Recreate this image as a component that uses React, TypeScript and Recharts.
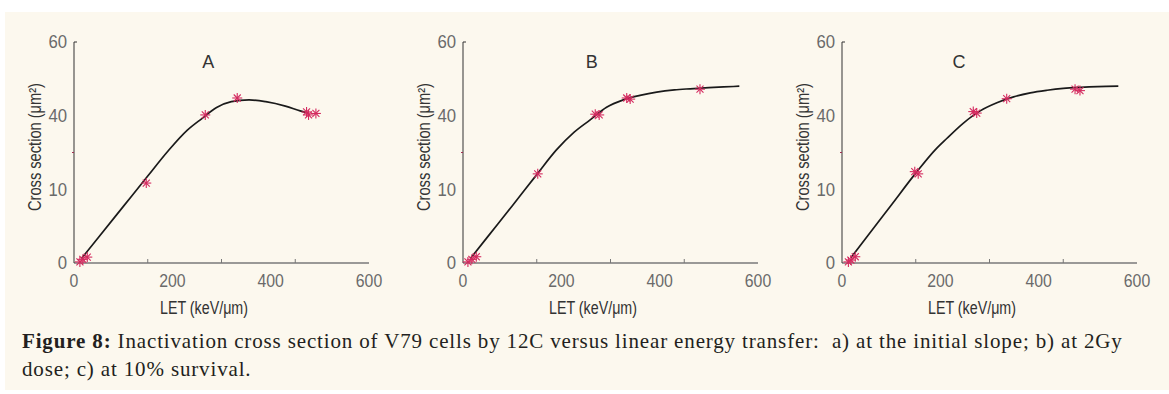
import React from "react";
import {
  ComposedChart,
  Line,
  Scatter,
  XAxis,
  YAxis,
  ReferenceDot,
} from "recharts";

// tick values
const xTickValues = [0, 150, 200, 300, 400, 450, 600];
const xLabelValues = [0, 200, 400, 600];
const yTickValues = [0, 20, 30, 40, 60];
const yTickText: Record<number, string> = { 0: "0", 20: "10", 40: "40", 60: "60" };

// panel A: initial slope
const curveAx = [15, 50, 100, 150, 190, 230, 260, 290, 320, 356, 390, 430, 460, 478];
const curveAy = [1.2, 7.0, 15.3, 23.6, 30.2, 36.0, 39.2, 42.2, 43.8, 44.3, 43.8, 42.6, 41.3, 40.6];
const pointsAx = [12, 18, 27, 147, 267, 332, 473, 477, 492];
const pointsAy = [0.3, 1.0, 1.6, 21.7, 40.2, 44.8, 41.0, 40.2, 40.6];

// panel B: 2Gy dose
const curveBx = [15, 50, 100, 150, 190, 225, 258, 292, 326, 360, 394, 430, 462, 500, 530, 562];
const curveBy = [1.2, 7.1, 15.5, 24.0, 30.7, 35.4, 38.8, 42.3, 44.3, 45.5, 46.4, 47.0, 47.3, 47.6, 47.8, 48.0];
const pointsBx = [10, 18, 27, 152, 269, 277, 333, 340, 482];
const pointsBy = [0.3, 1.0, 1.7, 24.2, 40.4, 40.2, 44.8, 44.5, 47.2];

// panel C: 10% survival
const curveCx = [18, 50, 100, 150, 190, 213, 247, 281, 315, 349, 383, 417, 450, 485, 520, 562];
const curveCy = [1.4, 7.0, 15.7, 24.4, 30.8, 33.8, 38.0, 41.3, 43.5, 45.1, 46.2, 46.9, 47.4, 47.7, 47.9, 48.0];
const pointsCx = [13, 18, 27, 148, 155, 267, 274, 335, 474, 484];
const pointsCy = [0.3, 0.8, 1.7, 24.8, 24.2, 41.1, 40.7, 44.6, 47.2, 46.8];

const zip = (xs: number[], ys: number[]) => xs.map((x, i) => ({ x, y: ys[i] }));

const axisFont = "'Liberation Sans Narrow', 'Liberation Sans', Arial, sans-serif";
const textColor = "#6a6a6a";
const markColor = "#d42a5f";

function XTick(props: any) {
  const { x, y, payload } = props;
  const v = payload.value;
  if (xLabelValues.includes(v)) {
    const s = String(v);
    return (
      <text
        x={x}
        y={y + 24}
        textAnchor="middle"
        fill={textColor}
        fontSize={18}
        fontFamily={axisFont}
        textLength={s.length * 8.8}
        lengthAdjust="spacingAndGlyphs"
      >
        {s}
      </text>
    );
  }
  return <line x1={x} x2={x} y1={y} y2={y - 4} stroke="#777" strokeWidth={1} />;
}

function YTick(props: any) {
  const { x, y, payload } = props;
  const v = payload.value;
  if (v === 30) {
    return <line x1={x} x2={x - 2} y1={y} y2={y} stroke="#a03050" strokeWidth={1} />;
  }
  const s = yTickText[v];
  return (
    <g>
      {v === 60 && <line x1={x} x2={x + 3} y1={y} y2={y} stroke="#333" strokeWidth={1} />}
      <text
        x={x - 7}
        y={y}
        dy="0.36em"
        textAnchor="end"
        fill={textColor}
        fontSize={18}
        fontFamily={axisFont}
        textLength={s.length * 9.3}
        lengthAdjust="spacingAndGlyphs"
      >
        {s}
      </text>
    </g>
  );
}

function Asterisk(props: any) {
  const { cx, cy } = props;
  const r = 5;
  const d = r * 0.7;
  return (
    <g stroke={markColor} strokeWidth={1.1}>
      <line x1={cx - r} y1={cy} x2={cx + r} y2={cy} />
      <line x1={cx} y1={cy - r} x2={cx} y2={cy + r} />
      <line x1={cx - d} y1={cy - d} x2={cx + d} y2={cy + d} />
      <line x1={cx - d} y1={cy + d} x2={cx + d} y2={cy - d} />
    </g>
  );
}

interface PanelProps {
  left: number;
  title: string;
  titleX: number;
  curve: Array<{ x: number; y: number }>;
  points: Array<{ x: number; y: number }>;
}

function Panel({ left, title, titleX, curve, points }: PanelProps) {
  return (
    <div style={{ position: "absolute", left, top: 0 }}>
      <ComposedChart width={390} height={330} margin={{ top: 42, right: 21, left: 0, bottom: 0 }}>
        <XAxis
          type="number"
          dataKey="x"
          domain={[0, 600]}
          ticks={xTickValues}
          interval={0}
          tick={<XTick />}
          tickLine={false}
          tickSize={0}
          tickMargin={0}
          height={67}
          axisLine={{ stroke: "#7a7a7a", strokeWidth: 1.5 }}
          label={({ viewBox }: any) => (
            <text
              x={viewBox.x + 130}
              y={314}
              textAnchor="middle"
              fill="#333"
              fontSize={18}
              fontFamily={axisFont}
              textLength={88}
              lengthAdjust="spacingAndGlyphs"
            >
              LET (keV/μm)
            </text>
          )}
        />
        <YAxis
          type="number"
          dataKey="y"
          domain={[0, 60]}
          ticks={yTickValues}
          interval={0}
          tick={<YTick />}
          tickLine={false}
          tickSize={0}
          tickMargin={0}
          width={74}
          axisLine={{ stroke: "#333", strokeWidth: 1 }}
          label={() => (
            <text
              x={35}
              y={147}
              transform={`rotate(-90, 35, 147)`}
              dy="0.35em"
              textAnchor="middle"
              fill="#333"
              fontSize={18}
              fontFamily={axisFont}
              textLength={128}
              lengthAdjust="spacingAndGlyphs"
            >
              Cross section (μm²)
            </text>
          )}
        />
        <ReferenceDot
          x={titleX}
          y={54.8}
          r={1}
          fill="none"
          stroke="none"
          label={{ value: title, position: "center", fill: "#333", fontSize: 18, fontFamily: axisFont }}
        />
        <Line
          data={curve}
          dataKey="y"
          type="monotone"
          stroke="#1a1a1a"
          strokeWidth={1.7}
          dot={false}
          isAnimationActive={false}
        />
        <Scatter data={points} dataKey="y" shape={<Asterisk />} isAnimationActive={false} />
      </ComposedChart>
    </div>
  );
}

export default function App() {
  return (
    <div style={{ position: "absolute", left: 0, top: 0, width: 1169, height: 394, background: "#fff" }}>
      <div style={{ position: "absolute", left: 5, top: 12, width: 1164, height: 378, background: "#fcf8ee" }} />
      <Panel left={0} title="A" titleX={273} curve={zip(curveAx, curveAy)} points={zip(pointsAx, pointsAy)} />
      <Panel left={389} title="B" titleX={262} curve={zip(curveBx, curveBy)} points={zip(pointsBx, pointsBy)} />
      <Panel left={768} title="C" titleX={238} curve={zip(curveCx, curveCy)} points={zip(pointsCx, pointsCy)} />
      <div
        style={{
          position: "absolute",
          left: 22,
          top: 327,
          fontFamily: "'Liberation Serif', 'Times New Roman', serif",
          fontSize: 21,
          letterSpacing: "0.85px",
          lineHeight: "28px",
          color: "#231f20",
          whiteSpace: "nowrap",
        }}
      >
        <div>
          <b>Figure 8:</b> Inactivation cross section of V79 cells by 12C versus linear energy transfer:&nbsp; a) at the
          initial slope; b) at 2Gy
        </div>
        <div>dose; c) at 10% survival.</div>
      </div>
    </div>
  );
}
